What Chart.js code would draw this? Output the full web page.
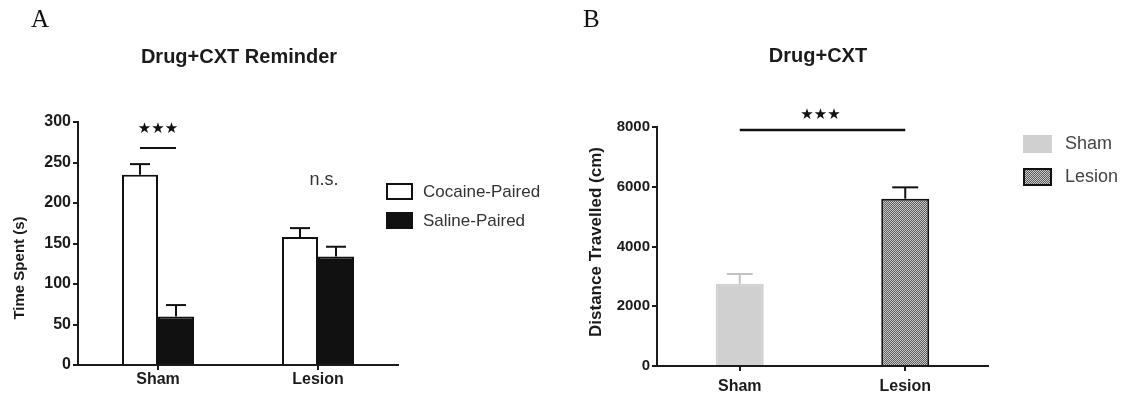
<!DOCTYPE html>
<html>
<head>
<meta charset="utf-8">
<script src="https://cdn.jsdelivr.net/npm/chart.js@4.4.1/dist/chart.umd.min.js"></script>
<style>
  body { margin: 0; background: #fff; }
  #wrap { position: relative; width: 1122px; height: 395px; }
  canvas { position: absolute; top: 0; }
  #chartA { left: 0; }
  #chartB { left: 561px; }
</style>
</head>
<body>
<div id="wrap">
  <canvas id="chartA" width="561" height="395"></canvas>
  <canvas id="chartB" width="561" height="395"></canvas>
</div>
<script>
// panel A - time spent in each context after the reminder
const groupsA = ['Sham', 'Lesion'];
const cocainePaired = [235, 158];
const cocaineErr = [13, 11];
const salinePaired = [60, 134];
const salineErr = [14, 12];
const ticksA = [0, 50, 100, 150, 200, 250, 300];

// panel B - locomotion
const groupsB = ['Sham', 'Lesion'];
const distance = [2750, 5600];
const distanceErr = [330, 380];
const ticksB = [0, 2000, 4000, 6000, 8000];

const FONT = "'Liberation Sans', Arial, Helvetica, sans-serif";
const SERIF = "'Liberation Serif', 'Times New Roman', serif";
const STAR = '15px "DejaVu Sans", sans-serif';
const INK = '#1b1b1b';

function text(ctx, str, x, y, font, color, align, rot) {
  ctx.save();
  ctx.font = font;
  ctx.fillStyle = color || INK;
  ctx.textAlign = align || 'center';
  ctx.textBaseline = 'middle';
  ctx.translate(x, y);
  if (rot) ctx.rotate(rot);
  ctx.fillText(str, 0, 0);
  ctx.restore();
}

function line(ctx, x1, y1, x2, y2, color, w) {
  ctx.save();
  ctx.strokeStyle = color;
  ctx.lineWidth = w;
  ctx.beginPath();
  ctx.moveTo(x1, y1);
  ctx.lineTo(x2, y2);
  ctx.stroke();
  ctx.restore();
}

// upward-only SEM bars with a flat cap
const errorBars = {
  id: 'errorBars',
  afterDatasetsDraw(chart, args, opts) {
    const ctx = chart.ctx;
    const y = chart.scales.y;
    chart.data.datasets.forEach((ds, i) => {
      chart.getDatasetMeta(i).data.forEach((bar, j) => {
        const top = y.getPixelForValue(ds.data[j] + ds.errors[j]);
        const col = Array.isArray(ds.errorColor) ? ds.errorColor[j] : ds.errorColor;
        line(ctx, bar.x, bar.y, bar.x, top, col, 2);
        line(ctx, bar.x - opts.cap / 2, top, bar.x + opts.cap / 2, top, col, 2);
      });
    });
  }
};

function axes(o) {
  return {
    x: {
      offset: true,
      grid: { offset: false, drawOnChartArea: false, drawTicks: true, tickLength: 5, color: INK, lineWidth: 2 },
      border: { display: true, color: INK, width: 2 },
      ticks: { color: INK, font: { family: FONT, size: 16, weight: 'bold' }, padding: o.xPad, maxRotation: 0 },
      afterFit(s) { s.height = o.xHeight; }
    },
    y: {
      min: 0,
      max: o.ticks[o.ticks.length - 1],
      grid: { drawOnChartArea: false, drawTicks: true, tickLength: 5, color: INK, lineWidth: 2 },
      border: { display: true, color: INK, width: 2 },
      ticks: {
        color: INK,
        font: { family: FONT, size: o.tickSize, weight: 'bold' },
        padding: 2,
        callback: v => String(v)
      },
      afterBuildTicks(s) { s.ticks = o.ticks.map(v => ({ value: v })); },
      afterFit(s) { s.width = o.yWidth; }
    }
  };
}

// ---------- panel A ----------
const decorA = {
  id: 'decorA',
  afterDraw(chart) {
    const ctx = chart.ctx;
    const y = chart.scales.y;
    const x = chart.scales.x;
    text(ctx, 'A', 31, 20, '25px ' + SERIF, '#111', 'left');
    text(ctx, 'Drug+CXT Reminder', 239, 57, 'bold 20px ' + FONT);
    text(ctx, 'Time Spent (s)', 20, 268, 'bold 15px ' + FONT, INK, 'center', -Math.PI / 2);

    // sham: cocaine vs saline
    const b0 = chart.getDatasetMeta(0).data[0];
    const b1 = chart.getDatasetMeta(1).data[0];
    const ly = y.getPixelForValue(268);
    line(ctx, b0.x, ly, b1.x, ly, '#111', 2);
    text(ctx, '★★★', (b0.x + b1.x) / 2, y.getPixelForValue(291), STAR, '#111');
    text(ctx, 'n.s.', x.getPixelForValue(1) + 6, y.getPixelForValue(228), '18px ' + FONT, '#333');

    // legend
    ctx.save();
    ctx.fillStyle = '#fff';
    ctx.fillRect(387, 184, 25, 15);
    ctx.strokeStyle = '#111';
    ctx.lineWidth = 2;
    ctx.strokeRect(387, 184, 25, 15);
    ctx.fillStyle = '#111';
    ctx.fillRect(386, 212, 27, 17);
    ctx.restore();
    text(ctx, 'Cocaine-Paired', 423, 192, '17px ' + FONT, '#333', 'left');
    text(ctx, 'Saline-Paired', 423, 221, '17px ' + FONT, '#333', 'left');
  }
};

new Chart(document.getElementById('chartA'), {
  type: 'bar',
  data: {
    labels: groupsA,
    datasets: [
      { label: 'Cocaine-Paired', data: cocainePaired, errors: cocaineErr, errorColor: '#111',
        backgroundColor: '#fff', borderColor: '#111', borderWidth: 2 },
      { label: 'Saline-Paired', data: salinePaired, errors: salineErr, errorColor: '#111',
        backgroundColor: '#111', borderColor: '#111', borderWidth: 2 }
    ]
  },
  options: {
    responsive: false,
    animation: false,
    devicePixelRatio: 1,
    categoryPercentage: 0.45,
    barPercentage: 1,
    layout: { padding: { top: 122, right: 163, left: 0, bottom: 0 } },
    plugins: { legend: { display: false }, tooltip: { enabled: false }, errorBars: { cap: 20 } },
    scales: axes({ ticks: ticksA, tickSize: 16, yWidth: 78, xHeight: 30, xPad: 0 })
  },
  plugins: [errorBars, decorA]
});

// ---------- panel B ----------
const ctxB = document.getElementById('chartB').getContext('2d');

function dotPattern() {
  const c = document.createElement('canvas');
  c.width = 2; c.height = 2;
  const g = c.getContext('2d');
  g.fillStyle = '#c6c6c6';
  g.fillRect(0, 0, 2, 2);
  g.fillStyle = '#5e5e5e';
  g.fillRect(0, 0, 1, 1);
  g.fillRect(1, 1, 1, 1);
  return ctxB.createPattern(c, 'repeat');
}
const dots = dotPattern();
const shamGrey = '#d0d0d0';

const decorB = {
  id: 'decorB',
  afterDraw(chart) {
    const ctx = chart.ctx;
    const y = chart.scales.y;
    text(ctx, 'B', 22, 20, '25px ' + SERIF, '#111', 'left');
    text(ctx, 'Drug+CXT', 257, 56, 'bold 20px ' + FONT);
    text(ctx, 'Distance Travelled (cm)', 35, 242, 'bold 17px ' + FONT, INK, 'center', -Math.PI / 2);

    const bars = chart.getDatasetMeta(0).data;
    const ly = y.getPixelForValue(7900);
    line(ctx, bars[0].x, ly, bars[1].x, ly, '#111', 2.5);
    text(ctx, '★★★', (bars[0].x + bars[1].x) / 2 - 2, y.getPixelForValue(8400), STAR, '#111');

    // legend
    ctx.save();
    ctx.fillStyle = shamGrey;
    ctx.fillRect(462, 135, 29, 18);
    ctx.fillStyle = dots;
    ctx.fillRect(462, 168, 29, 18);
    ctx.strokeStyle = '#111';
    ctx.lineWidth = 2;
    ctx.strokeRect(463, 169, 27, 16);
    ctx.restore();
    text(ctx, 'Sham', 504, 144, '18px ' + FONT, '#444', 'left');
    text(ctx, 'Lesion', 504, 177, '18px ' + FONT, '#444', 'left');
  }
};

new Chart(ctxB, {
  type: 'bar',
  data: {
    labels: groupsB,
    datasets: [
      { label: 'Distance', data: distance, errors: distanceErr, errorColor: ['#c2c2c2', '#111'],
        backgroundColor: [shamGrey, dots], borderColor: [shamGrey, '#111'], borderWidth: 2 }
    ]
  },
  options: {
    responsive: false,
    animation: false,
    devicePixelRatio: 1,
    categoryPercentage: 0.29,
    barPercentage: 1,
    layout: { padding: { top: 127, right: 134, left: 0, bottom: 0 } },
    plugins: { legend: { display: false }, tooltip: { enabled: false }, errorBars: { cap: 26 } },
    scales: axes({ ticks: ticksB, tickSize: 15, yWidth: 96, xHeight: 29, xPad: 6 })
  },
  plugins: [errorBars, decorB]
});
</script>
</body>
</html>
